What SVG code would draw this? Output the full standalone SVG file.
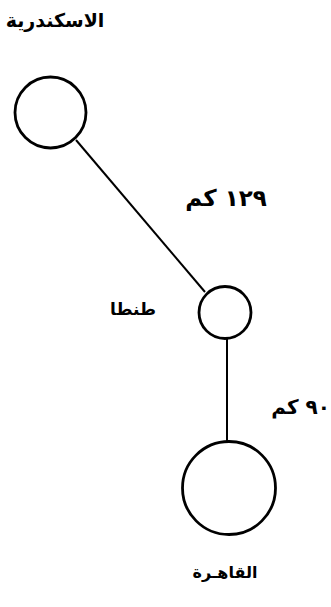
<svg xmlns="http://www.w3.org/2000/svg" width="331" height="607" viewBox="0 0 331 607">
<style>
.node{fill:#fff;stroke:#000;stroke-width:2.8}
.edge{stroke:#000;stroke-width:2;fill:none}
.lbl{font-family:"DejaVu Sans",sans-serif;font-weight:bold;fill:#000;text-anchor:middle}
</style>
<rect width="331" height="607" fill="#fff"/>
<g id="connectors">
<line class="edge" x1="76" y1="140" x2="205" y2="292"/>
<line class="edge" x1="227" y1="339" x2="227" y2="441"/>
</g>
<g id="alexandria">
<circle class="node" cx="50.5" cy="112.5" r="35.5"/>
<text class="lbl" x="55" y="27" font-size="19">الاسكندرية</text>
</g>
<g id="tanta">
<circle class="node" cx="225" cy="312.5" r="26"/>
<text class="lbl" x="133" y="315" font-size="17">طنطا</text>
</g>
<g id="cairo">
<circle class="node" cx="229" cy="488" r="46.5"/>
<text class="lbl" x="225" y="578" font-size="16">القاهـرة</text>
</g>
<g id="labels">
<text class="lbl" x="226" y="206" font-size="23">١٢٩ كم</text>
<text class="lbl" x="330" y="414" font-size="20" style="text-anchor:end">٩٠ كم</text>
</g>
</svg>
